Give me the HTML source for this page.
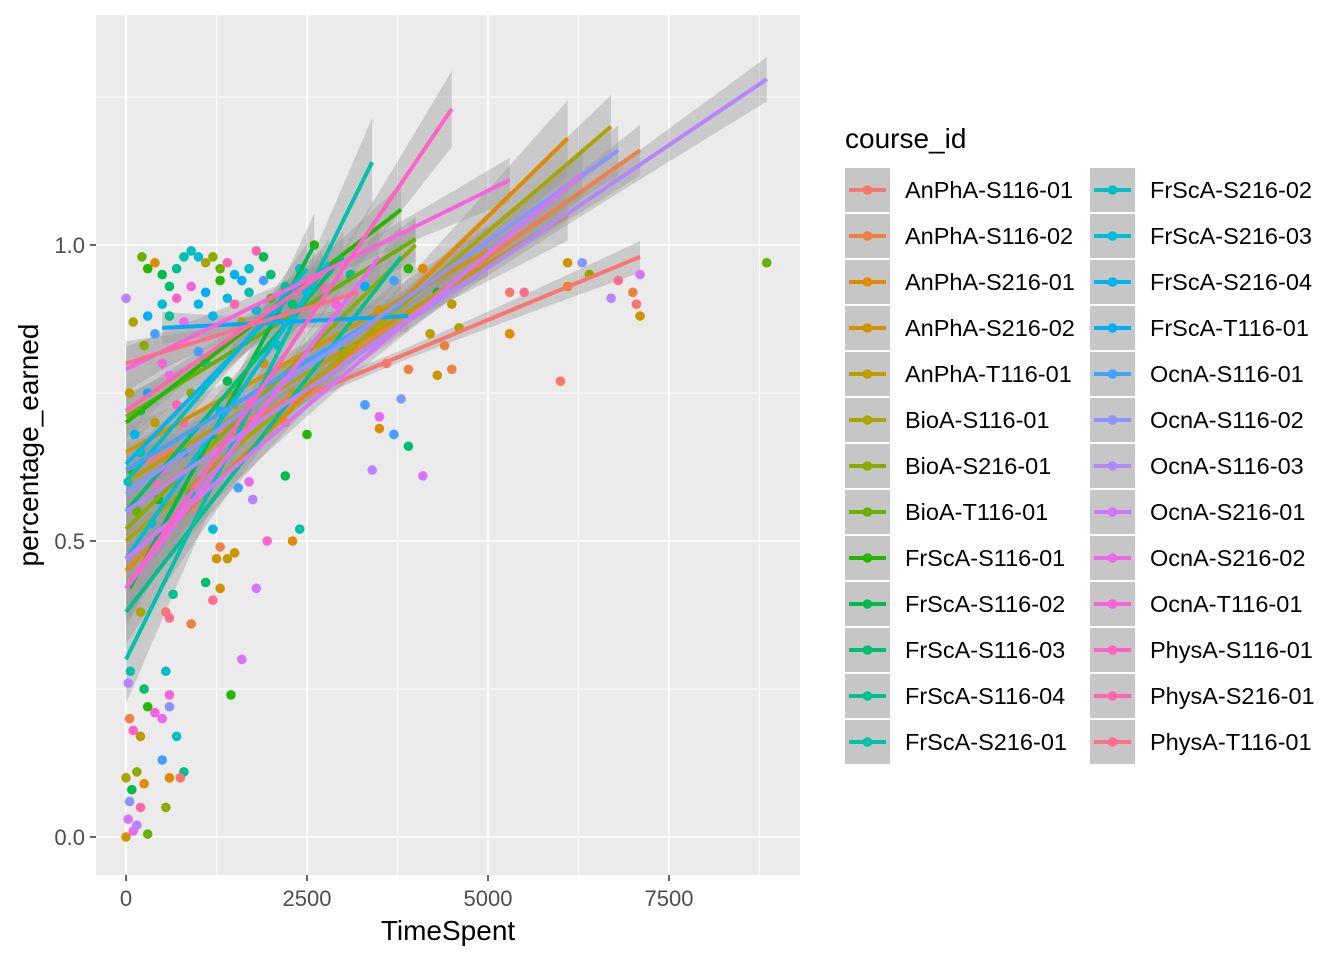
<!DOCTYPE html>
<html><head><meta charset="utf-8"><style>
body{margin:0;background:#fff;}
svg{display:block;font-family:"Liberation Sans",Arial,sans-serif;}
</style></head><body>
<svg id="chart" width="1344" height="960" viewBox="0 0 1344 960">
<rect x="96" y="15" width="704" height="860" fill="#ebebeb"/>
<g id="grid"></g>
<g id="ribbons"></g>
<g id="points"></g>
<g id="lines"></g>
<g id="axes"></g>
<text x="448" y="940" font-size="28" text-anchor="middle" fill="#000">TimeSpent</text>
<text transform="translate(38,445) rotate(-90)" font-size="28" text-anchor="middle" fill="#000">percentage_earned</text>
<text x="845" y="148" font-size="28" fill="#000">course_id</text>
<g id="legend"></g>
</svg>
<script>
const courses=["AnPhA-S116-01","AnPhA-S116-02","AnPhA-S216-01","AnPhA-S216-02","AnPhA-T116-01","BioA-S116-01","BioA-S216-01","BioA-T116-01","FrScA-S116-01","FrScA-S116-02","FrScA-S116-03","FrScA-S116-04","FrScA-S216-01","FrScA-S216-02","FrScA-S216-03","FrScA-S216-04","FrScA-T116-01","OcnA-S116-01","OcnA-S116-02","OcnA-S116-03","OcnA-S216-01","OcnA-S216-02","OcnA-T116-01","PhysA-S116-01","PhysA-S216-01","PhysA-T116-01"];
const lineX0=[0,0,0,0,0,0,0,0,0,50,0,0,0,0,0,0,500,0,0,0,0,0,0,0,0,0];
const lineX1=[7100,7100,6100,5000,6100,6700,4000,4000,3800,2600,3000,3800,3400,2500,2800,2400,3900,3800,6800,8850,6300,3500,5300,4500,2700,3200];
const lineY0=[0.62,0.55,0.45,0.65,0.6,0.5,0.52,0.71,0.7,0.42,0.55,0.38,0.3,0.6,0.47,0.63,0.86,0.62,0.58,0.55,0.47,0.42,0.79,0.42,0.72,0.8];
const lineY1=[0.98,1.16,1.18,0.99,1.05,1.2,1.0,1.01,1.06,1.0,0.98,0.98,1.14,0.96,0.97,0.93,0.88,0.9,1.16,1.28,1.12,0.98,1.11,1.23,0.95,0.92];
const lineSE=[0.025,0.04,0.06,0.04,0.04,0.05,0.04,0.035,0.04,0.05,0.04,0.05,0.07,0.04,0.04,0.035,0.025,0.04,0.04,0.035,0.04,0.05,0.035,0.06,0.04,0.035];
const pointTime=[0,30,50,0,80,100,150,200,300,250,150,100,50,30,60,200,300,400,250,500,550,600,700,800,750,600,550,500,600,650,200,550,600,900,1100,1200,1300,1450,1600,1800,1950,2200,2300,2400,1250,1300,1400,1500,1200,1750,1700,1550,0,50,100,30,80,120,200,250,220,300,400,500,600,700,800,900,1000,1100,1200,1300,1400,1500,1600,1700,1800,1900,2000,2200,2400,2600,300,400,500,600,700,800,900,1000,1100,1200,1300,1400,1500,1600,1700,1800,1900,2000,2100,2300,2500,2700,2900,3100,3300,3500,3700,3900,4100,4300,4500,4600,4400,4300,4100,3900,3800,3600,3500,3500,3400,3300,3700,3900,4200,4500,5300,5300,5500,6000,6100,6100,6300,6400,6700,6800,7000,7050,7100,7100,8850,300,400,500,600,700,800,900,1000,1100,1200,1300,1400,1500,1600,1700,1900,2100,2300,2500,2800,3000,2200,400,500,700,800,900,1000,350,450,200,150];
const pointPct=[0,0.03,0.06,0.1,0.08,0.01,0.02,0.05,0.005,0.09,0.11,0.18,0.2,0.26,0.28,0.17,0.22,0.21,0.25,0.13,0.05,0.22,0.17,0.11,0.1,0.1,0.28,0.2,0.24,0.41,0.38,0.38,0.37,0.36,0.43,0.4,0.42,0.24,0.3,0.42,0.5,0.61,0.5,0.52,0.47,0.49,0.47,0.48,0.52,0.57,0.6,0.59,0.91,0.75,0.87,0.6,0.62,0.68,0.72,0.83,0.98,0.96,0.97,0.95,0.93,0.96,0.98,0.99,0.98,0.97,0.98,0.96,0.97,0.95,0.94,0.96,0.99,0.98,0.95,0.93,0.96,1.0,0.88,0.85,0.9,0.88,0.91,0.87,0.93,0.9,0.92,0.88,0.94,0.91,0.9,0.87,0.92,0.89,0.94,0.91,0.88,0.9,0.92,0.93,0.9,0.95,0.93,0.89,0.94,0.96,0.96,0.92,0.9,0.86,0.83,0.78,0.61,0.66,0.74,0.8,0.71,0.69,0.62,0.73,0.68,0.79,0.85,0.79,0.92,0.85,0.92,0.77,0.97,0.93,0.97,0.95,0.91,0.94,0.92,0.9,0.88,0.95,0.97,0.75,0.7,0.8,0.78,0.73,0.7,0.75,0.82,0.8,0.68,0.72,0.77,0.73,0.69,0.74,0.8,0.83,0.75,0.68,0.79,0.82,0.7,0.6,0.62,0.6,0.65,0.58,0.55,0.53,0.57,0.65,0.55];
const pointCourse=[3,20,18,5,9,21,19,24,7,2,6,23,1,19,12,4,8,22,10,17,6,18,13,11,0,2,13,21,22,11,5,0,25,1,10,25,3,8,20,20,23,9,2,12,3,1,4,3,14,19,21,17,19,4,5,13,8,15,10,6,7,8,2,9,10,11,12,13,14,5,6,7,24,15,16,13,24,9,10,11,14,8,16,17,14,11,23,21,22,15,16,15,8,14,24,4,12,13,17,7,16,10,15,24,22,11,16,3,17,8,2,9,4,5,1,3,20,10,18,0,21,2,19,17,17,1,4,1,0,2,25,0,3,2,18,6,19,25,1,0,3,20,7,16,4,22,21,24,23,6,17,15,11,14,9,5,7,23,2,13,5,8,19,11,1,23,22,20,16,12,0,14,9,12,7,10,13,11,8,14,12,9,10,13];
const xTicks=[0,2500,5000,7500], xMinor=[1250,3750,6250,8750];
const yTicks=[0,0.5,1.0], yTickLabels=["0.0","0.5","1.0"], yMinor=[0.25,0.75,1.25];

const NS="http://www.w3.org/2000/svg";
const X=v=>126+v*0.0724, Y=v=>837-v*592;
function hcl(h){const L=65,C=100,hr=h*Math.PI/180;const u=C*Math.cos(hr),v=C*Math.sin(hr);
 const Xn=0.95047,Yn=1,Zn=1.08883;const un=4*Xn/(Xn+15*Yn+3*Zn),vn=9*Yn/(Xn+15*Yn+3*Zn);
 const y=Math.pow((L+16)/116,3);const up=u/(13*L)+un,vp=v/(13*L)+vn;
 const x=y*9*up/(4*vp),z=y*(12-3*up-20*vp)/(4*vp);
 let r=3.2406*x-1.5372*y-0.4986*z,g=-0.9689*x+1.8758*y+0.0415*z,b=0.0557*x-0.2040*y+1.0570*z;
 const gam=c=>{c=c<=0.0031308?12.92*c:1.055*Math.pow(c,1/2.4)-0.055;return Math.round(Math.max(0,Math.min(1,c))*255);};
 return `rgb(${gam(r)},${gam(g)},${gam(b)})`;}
const colors=courses.map((c,i)=>hcl(15+i*360/courses.length));
function el(tag,attrs,parent){const e=document.createElementNS(NS,tag);for(const k in attrs)e.setAttribute(k,attrs[k]);parent.appendChild(e);return e;}
const grid=document.getElementById('grid');
xMinor.forEach(v=>{const e=el('line',{x1:X(v),x2:X(v),y1:15,y2:875,stroke:'#fff','stroke-width':1},grid);

});
yMinor.forEach(v=>{const e=el('line',{x1:96,x2:800,y1:Y(v),y2:Y(v),stroke:'#fff','stroke-width':1},grid);

});
xTicks.forEach(v=>{const e=el('line',{x1:X(v),x2:X(v),y1:15,y2:875,stroke:'#fff','stroke-width':2},grid);

});
yTicks.forEach(v=>{const e=el('line',{x1:96,x2:800,y1:Y(v),y2:Y(v),stroke:'#fff','stroke-width':2},grid);

});
const axes=document.getElementById('axes');
xTicks.forEach(v=>{const t=el('line',{x1:X(v),x2:X(v),y1:875,y2:881,stroke:'#333','stroke-width':1.5},axes);


const l=el('text',{x:X(v),y:906,'font-size':22,'text-anchor':'middle',fill:'#4d4d4d'},axes);l.textContent=v;

});
yTicks.forEach((v,i)=>{const t=el('line',{x1:90,x2:96,y1:Y(v),y2:Y(v),stroke:'#333','stroke-width':1.5},axes);


const l=el('text',{x:85,y:Y(v)+8,'font-size':22,'text-anchor':'end',fill:'#4d4d4d'},axes);l.textContent=yTickLabels[i];

});
const pts=document.getElementById('points');
pointTime.forEach((t,i)=>{const ci=(pointCourse[i]!==undefined)?pointCourse[i]:i%26;
const c=el('circle',{cx:X(t),cy:Y(pointPct[i]),r:4.8,fill:colors[ci]},pts);

});
const rib=document.getElementById('ribbons'),lns=document.getElementById('lines');
courses.forEach((c,i)=>{const x0=lineX0[i],x1=lineX1[i],y0=lineY0[i],y1=lineY1[i];const xm=(x0+x1)/2,hr=(x1-x0)/2;
 const up=[],dn=[];for(let k=0;k<=20;k++){const x=x0+(x1-x0)*k/20;const y=y0+(y1-y0)*k/20;const u=(x-xm)/hr;const w=lineSE[i]*Math.sqrt(0.15+u*u);
 up.push(X(x)+','+Y(y+w));dn.unshift(X(x)+','+Y(y-w));}
 const p=el('polygon',{points:up.concat(dn).join(' '),fill:'#999','fill-opacity':0.4},rib);
 
 
 const l=el('line',{x1:X(x0),y1:Y(y0),x2:X(x1),y2:Y(y1),stroke:colors[i],'stroke-width':4},lns);
 
 });
const leg=document.getElementById('legend');
courses.forEach((c,i)=>{const col=i<13?0:1,row=i%13;const kx=col?1090:845,cy=190+row*46;
 const g=el('g',{},leg);
 
 
 el('rect',{x:kx,y:cy-22,width:45,height:44,fill:'#c6c6c6'},g);
 el('line',{x1:kx+4,x2:kx+41,y1:cy,y2:cy,stroke:colors[i],'stroke-width':4},g);
 el('circle',{cx:kx+22.5,cy:cy,r:4.8,fill:colors[i]},g);
 const t=el('text',{x:kx+60,y:cy+8,'font-size':23.5,fill:'#000'},g);t.textContent=c;});
</script>
</body></html>
